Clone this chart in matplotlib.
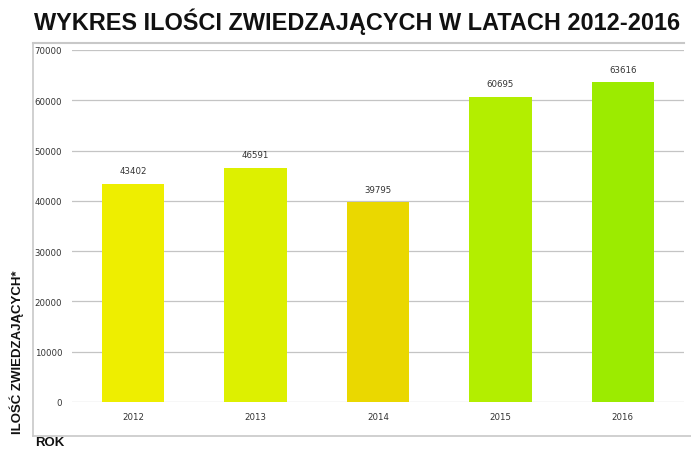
import matplotlib
matplotlib.use("Agg")
import matplotlib.pyplot as plt
from matplotlib.lines import Line2D

years = ["2012", "2013", "2014", "2015", "2016"]
visitors = [43402, 46591, 39795, 60695, 63616]
bar_colors = ["#EEEE00", "#DDF000", "#EAD800", "#B3EE00", "#9CEB00"]
yticks = [0, 10000, 20000, 30000, 40000, 50000, 60000, 70000]

W, H = 691, 452
fig = plt.figure(figsize=(W / 100, H / 100), dpi=100)
fig.patch.set_facecolor("white")

ax = fig.add_axes([72 / W, 1 - 403 / H, (684 - 72) / W, (403 - 51) / H])
x = list(range(len(years)))
ax.bar(x, visitors, width=0.51, color=bar_colors, zorder=3)
ax.set_xlim(-0.5, len(years) - 0.5)
ax.set_ylim(0, 70000)
ax.set_yticks(yticks)
ax.set_yticklabels([str(v) for v in yticks])
ax.set_xticks(x)
ax.set_xticklabels(years)
ax.grid(axis="y", color="#c4c4c4", linewidth=0.9, zorder=0)
ax.set_axisbelow(True)
for s in ax.spines.values():
    s.set_visible(False)
ax.tick_params(axis="both", length=0, labelsize=6.2, labelcolor="#333333")
ax.tick_params(axis="y", pad=7)
ax.tick_params(axis="x", pad=7)

for xi, v in zip(x, visitors):
    ax.annotate(str(v), (xi, v), xytext=(0, 6), textcoords="offset points",
                ha="center", va="bottom", fontsize=6.2, color="#333333")

# outer frame
fc = "#c8c8c8"
fig.add_artist(Line2D([33 / W, 684 / W], [1 - 44 / H, 1 - 44 / H], color=fc, lw=1.5))
fig.add_artist(Line2D([33 / W, 33 / W], [1 - 44 / H, 1 - 437 / H], color=fc, lw=1.2))
fig.add_artist(Line2D([33 / W, 1.0], [1 - 437 / H, 1 - 437 / H], color=fc, lw=1.2))

fig.text(357 / W, 1 - 22 / H, "WYKRES ILOŚCI ZWIEDZAJĄCYCH W LATACH 2012-2016",
         ha="center", va="center", fontsize=16.9, fontweight="bold",
         family="Liberation Sans", color="#111111")
fig.text(17 / W, 1 - 352 / H, "ILOŚĆ ZWIEDZAJĄCYCH*", rotation=90,
         ha="center", va="center", fontsize=9.5, fontweight="bold",
         family="Liberation Sans", color="#111111")
fig.text(35 / W, 1 - 443 / H, "ROK", ha="left", va="center", fontsize=9.5,
         fontweight="bold", family="Liberation Sans", color="#111111")

fig.savefig("out.png", dpi=100)
